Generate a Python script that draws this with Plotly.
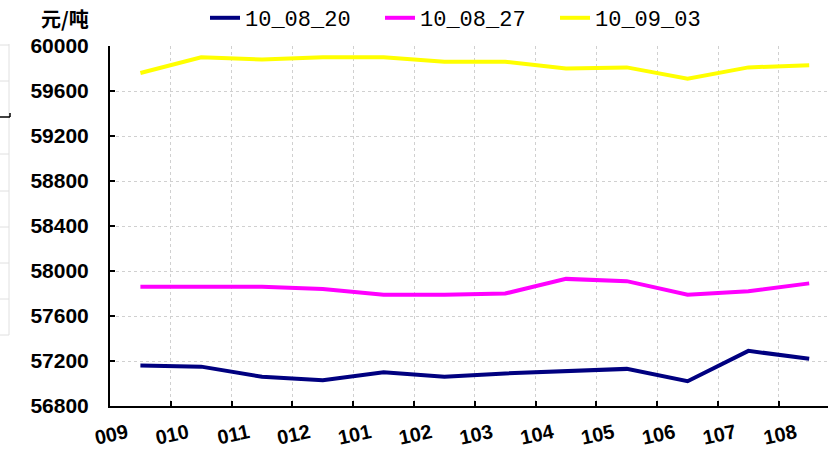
import plotly.graph_objects as go

# ---- data ----
months = ["009", "010", "011", "012", "101", "102", "103", "104", "105", "106", "107", "108"]
series_names = ["10_08_20", "10_08_27", "10_09_03"]
s_0820 = [57160, 57150, 57060, 57030, 57100, 57060, 57090, 57110, 57130, 57020, 57290, 57220]
s_0827 = [57860, 57860, 57860, 57840, 57790, 57790, 57800, 57930, 57910, 57790, 57820, 57890]
s_0903 = [59760, 59900, 59880, 59900, 59900, 59860, 59860, 59800, 59810, 59710, 59810, 59830]
y_ticks = [56800, 57200, 57600, 58000, 58400, 58800, 59200, 59600, 60000]

colors = ["#000080", "#FF00FF", "#FFFF00"]
xs = list(range(len(months)))

fig = go.Figure()
for name, vals, c in zip(series_names, [s_0820, s_0827, s_0903], colors):
    fig.add_trace(go.Scatter(x=xs, y=vals, mode="lines", name=name,
                             line=dict(color=c, width=4)))

W, H = 828, 451
L, R, T, B = 110, 0, 46, 45
px_per_cat = 60.8
x_right = -0.5 + (W - L - R) / px_per_cat

fig.update_layout(
    width=W, height=H,
    margin=dict(l=L, r=R, t=T, b=B, autoexpand=False),
    paper_bgcolor="white", plot_bgcolor="white",
    showlegend=True,
    legend=dict(orientation="h", x=(205 - L) / (W - L), xanchor="left",
                y=1 + (T - 18) / (H - T - B), yanchor="middle",
                font=dict(family="Liberation Mono", size=22, color="black"),
                entrywidth=130, entrywidthmode="pixels",
                bgcolor="rgba(0,0,0,0)", itemwidth=30),
    xaxis=dict(range=[-0.5, x_right], tickmode="array",
               tickvals=[i - 0.5 for i in xs], ticktext=months,
               tickangle=-12, ticklabelshift=17, ticklabelstandoff=6,
               tickfont=dict(family="Liberation Sans", size=20, color="black", weight="bold"),
               showline=True, linecolor="black", linewidth=2,
               ticks="inside", ticklen=5, tickwidth=1.5, tickcolor="black",
               showgrid=True, gridcolor="#d0d0d0", gridwidth=1, griddash="dot",
               zeroline=False, fixedrange=True, automargin=False),
    yaxis=dict(range=[56800, 60000], tickmode="array", tickvals=y_ticks,
               ticktext=[str(v) for v in y_ticks],
               tickfont=dict(family="Liberation Sans", size=21, color="black", weight="bold"),
               showline=True, linecolor="black", linewidth=2,
               ticks="inside", ticklen=5, tickwidth=1.5, tickcolor="black",
               ticklabelstandoff=15,
               showgrid=True, gridcolor="#d0d0d0", gridwidth=1, griddash="dot",
               zeroline=False, fixedrange=True, automargin=False),
)

# unit label
fig.add_annotation(text="元/吨", xref="paper", yref="paper",
                   x=(39 - L) / (W - L), xanchor="left",
                   y=1 + (T - 18) / (H - T - B), yanchor="middle",
                   showarrow=False,
                   font=dict(family="Noto Sans CJK SC", size=20, color="black", weight="bold"))

# cropped fragment of a neighbouring chart at the far left edge
def px2x(p):
    return (p - L) / (W - L)

def py2y(p):
    return 1 - (p - T) / (H - T - B)

frag_lines = [45, 81, 154, 191, 227, 263, 299, 335]
for yy in frag_lines:
    fig.add_shape(type="line", xref="paper", yref="paper",
                  x0=px2x(0), x1=px2x(9), y0=py2y(yy), y1=py2y(yy),
                  line=dict(color="#e0e0e0", width=1))
fig.add_shape(type="line", xref="paper", yref="paper",
              x0=px2x(9), x1=px2x(9), y0=py2y(44), y1=py2y(335),
              line=dict(color="#e0e0e0", width=1))
fig.add_shape(type="line", xref="paper", yref="paper",
              x0=px2x(0), x1=px2x(10), y0=py2y(117), y1=py2y(117),
              line=dict(color="black", width=1.5))
fig.add_shape(type="line", xref="paper", yref="paper",
              x0=px2x(10), x1=px2x(10), y0=py2y(117), y1=py2y(113),
              line=dict(color="black", width=1.5))

fig.write_html("out.html", config={"displayModeBar": False},
               post_script="document.body.style.margin='0';document.body.style.overflow='hidden';")
